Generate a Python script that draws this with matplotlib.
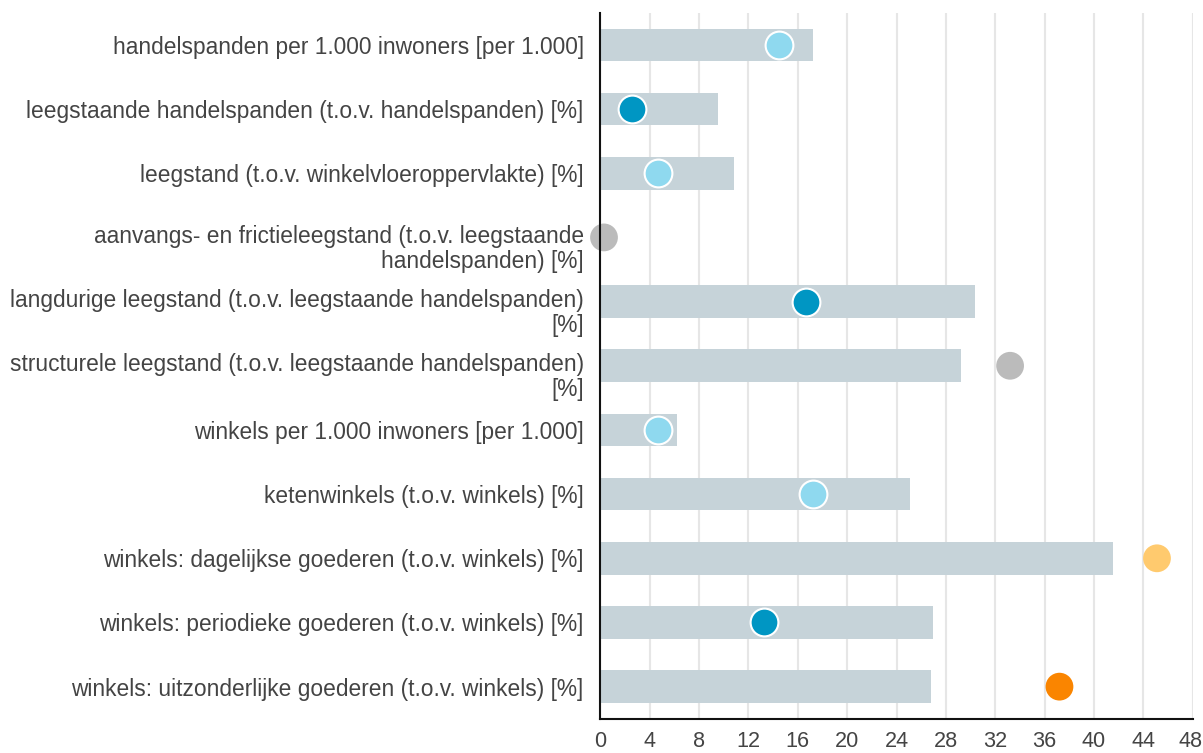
import matplotlib
matplotlib.use("Agg")
import matplotlib.pyplot as plt
import matplotlib.transforms as mtransforms

categories = [
    "handelspanden per 1.000 inwoners [per 1.000]",
    "leegstaande handelspanden (t.o.v. handelspanden) [%]",
    "leegstand (t.o.v. winkelvloeroppervlakte) [%]",
    "aanvangs- en frictieleegstand (t.o.v. leegstaande\nhandelspanden) [%]",
    "langdurige leegstand (t.o.v. leegstaande handelspanden)\n[%]",
    "structurele leegstand (t.o.v. leegstaande handelspanden)\n[%]",
    "winkels per 1.000 inwoners [per 1.000]",
    "ketenwinkels (t.o.v. winkels) [%]",
    "winkels: dagelijkse goederen (t.o.v. winkels) [%]",
    "winkels: periodieke goederen (t.o.v. winkels) [%]",
    "winkels: uitzonderlijke goederen (t.o.v. winkels) [%]",
]
bar_values = [17.2, 9.55, 10.8, 0.0, 30.35, 29.2, 6.25, 25.1, 41.55, 26.95, 26.8]
dot_values = [14.45, 2.6, 4.7, 0.3, 16.65, 33.2, 4.7, 17.25, 45.1, 13.25, 37.2]
dot_colors = ["#8fd9ef", "#0096c3", "#8fd9ef", "#bbbbbb", "#0096c3", "#bbbbbb",
              "#8fd9ef", "#8fd9ef", "#ffca6e", "#0096c3", "#fa8500"]
dot_edges = ["white", "white", "white", "none", "white", "none",
             "white", "white", "none", "white", "none"]
xticks = list(range(0, 49, 4))

plt.rcParams['font.family'] = ['Liberation Sans', 'DejaVu Sans']

fig = plt.figure(figsize=(12.03, 7.53), dpi=100)
ax = fig.add_axes([0.499, 0.0455, 0.4925, 0.9375])

ypos = list(range(len(categories)))
ax.barh(ypos, bar_values, height=0.51, color="#c6d3d9", zorder=2)
for y, v, c, e in zip(ypos, dot_values, dot_colors, dot_edges):
    ax.scatter([v], [y], s=400, color=c, edgecolors=e, linewidths=1.5, zorder=3,
               clip_on=False)

ax.set_ylim(len(categories) - 0.5, -0.5)
ax.set_xlim(0, 48)
ax.set_xticks(xticks)
ax.set_xticklabels([str(t) for t in xticks])
ax.set_yticks(ypos)
ax.set_yticklabels(categories, fontsize=16.4, color="#444444",
                   multialignment='right', linespacing=1.1)
ax.tick_params(axis='y', length=0, pad=12)
ax.tick_params(axis='x', length=0, pad=9, labelsize=15.6, labelcolor="#444444")

for lbl in ax.get_yticklabels():
    if "\n" in lbl.get_text():
        lbl.set_verticalalignment('top')
        off = mtransforms.ScaledTranslation(0, 9.0 / 72, fig.dpi_scale_trans)
        lbl.set_transform(lbl.get_transform() + off)

last = ax.get_xticklabels()[-1]
last.set_transform(last.get_transform() +
                   mtransforms.ScaledTranslation(-1.5 / 72, 0, fig.dpi_scale_trans))

ax.grid(axis='x', color="#e6e6e6", linewidth=1.5, zorder=0)
ax.set_axisbelow(True)
for s in ['top', 'right']:
    ax.spines[s].set_visible(False)
ax.spines['left'].set_color("#111111")
ax.spines['bottom'].set_color("#111111")
ax.spines['left'].set_linewidth(1.5)
ax.spines['bottom'].set_linewidth(1.5)
ax.spines['left'].set_zorder(4)

fig.savefig("out.png", dpi=100)
